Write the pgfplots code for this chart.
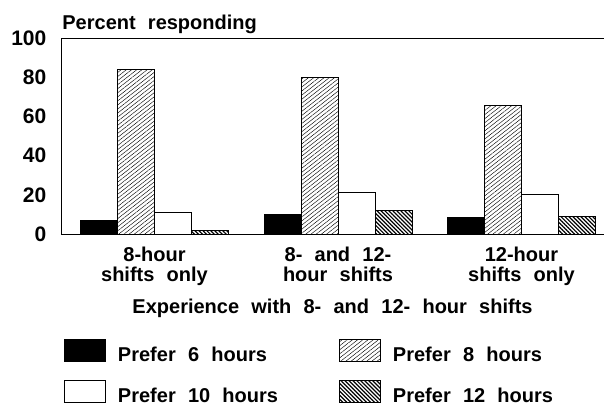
\documentclass[border=0pt]{standalone}
\usepackage{fontspec}
\setmainfont{Liberation Sans}[WordSpace=2.2]
\usepackage{pgfplots}
\pgfplotsset{compat=1.18}
\usetikzlibrary{patterns.meta}

\tikzset{
  hatchA/.style={pattern={Lines[angle=38,distance=1.6pt,line width=0.22pt]}},
  hatchB/.style={pattern={Lines[angle=-45,distance=1.4pt,line width=0.6pt]}},
}
\pgfplotsset{
  sw/.style={/pgfplots/legend image code/.code={
    \draw[##1] (0pt,0pt) rectangle (20.5pt,11pt);}},
}
\newcommand{\lbl}{\fontsize{10}{10}\selectfont\bfseries}

\begin{document}
\begin{tikzpicture}
\useasboundingbox (0,0) rectangle (302pt,202pt);
\begin{axis}[
  at={(30.5pt,85pt)}, anchor=south west,
  scale only axis, width=271.5pt, height=98pt,
  ybar=0pt, bar width=18.5pt,
  xmin=0.4905, xmax=3.4496, ymin=0, ymax=100,
  enlargelimits=false,
  axis x line=box, axis y line=left,
  axis line style={-, line width=0.5pt},
  tick style={draw=none},
  ytick={0,20,...,100},
  /pgf/number format/assume math mode=true,
  yticklabel style={font=\fontsize{10.5}{12}\selectfont\bfseries,
    inner sep=0pt, anchor=east, xshift=-5pt},
  xtick={1,2,3},
  xticklabels={{8-hour\\shifts only},{8- and 12-\\hour shifts},{12-hour\\shifts only}},
  xticklabel style={font=\lbl, align=center, inner sep=0pt,
    anchor=north, yshift=-2pt},
  xlabel={Experience with 8- and 12- hour shifts},
  xlabel style={font=\lbl, at={(axis description cs:0.5,0)},
    anchor=base, inner sep=0pt, yshift=-39.5pt},
  title={Percent responding},
  title style={font=\lbl, at={(axis description cs:0,1)},
    anchor=base west, inner sep=0pt, xshift=0.5pt, yshift=-1.5pt},
  legend columns=2,
  legend style={at={(axis description cs:0.0055,-0.536)},
    anchor=north west, draw=none, inner sep=0pt, outer sep=0pt,
    font=\lbl, row sep=7.5pt, column sep=6pt,
    nodes={inner sep=0pt, text width=104.5pt, align=flush left,
      anchor=base west}},
]
\addplot[draw=black, line width=0.5pt, fill=black, sw]
  coordinates {(1,7) (2,10) (3,8.5)};
\addplot[draw=black, line width=0.5pt, hatchA, sw]
  coordinates {(1,84) (2,80) (3,65.5)};
\addplot[draw=black, line width=0.5pt, fill=white, sw]
  coordinates {(1,11) (2,21) (3,20)};
\addplot[draw=black, line width=0.5pt, hatchB, sw]
  coordinates {(1,2) (2,12) (3,9)};
\legend{Prefer 6 hours, Prefer 8 hours, Prefer 10 hours, Prefer 12 hours}
\end{axis}
\end{tikzpicture}
\end{document}
